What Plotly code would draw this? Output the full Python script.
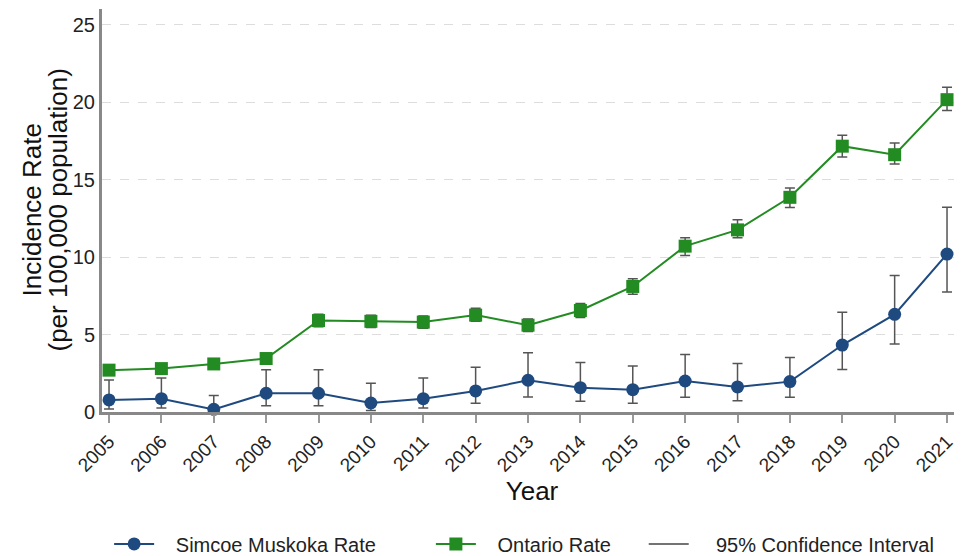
import plotly.graph_objects as go

years = list(range(2005, 2022))

# Simcoe Muskoka rate and 95% CI
sm_rate = [0.78, 0.86, 0.17, 1.21, 1.21, 0.58, 0.86, 1.36, 2.05, 1.57, 1.44, 2.00, 1.62, 1.96, 4.32, 6.30, 10.19]
sm_lo = [0.20, 0.26, 0.00, 0.41, 0.41, 0.10, 0.26, 0.56, 0.97, 0.69, 0.56, 0.95, 0.73, 0.95, 2.74, 4.38, 7.75]
sm_hi = [2.07, 2.20, 1.06, 2.72, 2.72, 1.86, 2.20, 2.89, 3.82, 3.19, 2.96, 3.71, 3.13, 3.52, 6.43, 8.81, 13.21]

# Ontario rate and 95% CI
on_rate = [2.70, 2.80, 3.10, 3.45, 5.90, 5.85, 5.80, 6.25, 5.60, 6.55, 8.10, 10.70, 11.75, 13.85, 17.15, 16.60, 20.15]
on_lo = [2.45, 2.55, 2.85, 3.20, 5.50, 5.45, 5.40, 5.85, 5.20, 6.10, 7.60, 10.10, 11.25, 13.20, 16.45, 16.00, 19.45]
on_hi = [2.95, 3.05, 3.35, 3.75, 6.30, 6.25, 6.20, 6.70, 6.00, 7.00, 8.60, 11.25, 12.40, 14.45, 17.85, 17.35, 20.95]

BLUE = "#1f4a80"
GREEN = "#228b22"
ERR = "#555555"
NB = "\u00a0"

fig = go.Figure()

fig.add_trace(go.Scatter(
    x=years, y=sm_rate, name=NB * 3 + "Simcoe Muskoka Rate" + NB * 9,
    mode="lines+markers",
    line=dict(color=BLUE, width=2),
    marker=dict(symbol="circle", size=13, color=BLUE),
    error_y=dict(type="data", symmetric=False,
                 array=[h - r for h, r in zip(sm_hi, sm_rate)],
                 arrayminus=[r - l for r, l in zip(sm_rate, sm_lo)],
                 color=ERR, thickness=1.5, width=5),
    cliponaxis=False,
))

fig.add_trace(go.Scatter(
    x=years, y=on_rate, name=NB * 3 + "Ontario Rate" + NB * 5,
    mode="lines+markers",
    line=dict(color=GREEN, width=2),
    marker=dict(symbol="square", size=13, color=GREEN),
    error_y=dict(type="data", symmetric=False,
                 array=[h - r for h, r in zip(on_hi, on_rate)],
                 arrayminus=[r - l for r, l in zip(on_rate, on_lo)],
                 color=ERR, thickness=1.5, width=5),
    cliponaxis=False,
))

# legend entry for the CI whiskers
fig.add_trace(go.Scatter(
    x=[None], y=[None], name=NB * 4 + "95% Confidence Interval",
    mode="lines", line=dict(color="#444444", width=1.5),
))

fig.update_layout(
    width=954, height=548,
    margin=dict(l=94, r=0, t=1, b=144),
    plot_bgcolor="white", paper_bgcolor="white",
    font=dict(family="Liberation Sans, Arial, sans-serif", color="#222222", size=18),
    legend=dict(
        orientation="h", xref="container", yref="container",
        x=0.106, y=0.022, xanchor="left", yanchor="middle",
        font=dict(size=20), itemwidth=40, traceorder="normal",
    ),
    annotations=[
        dict(text="Incidence Rate", xref="paper", yref="paper", x=0, y=0.5,
             xanchor="center", yanchor="middle", xshift=-71, textangle=-90,
             showarrow=False, font=dict(size=26, color="#111111")),
        dict(text="(per 100,000 population)", xref="paper", yref="paper", x=0, y=0.5,
             xanchor="center", yanchor="middle", xshift=-45, textangle=-90,
             showarrow=False, font=dict(size=26, color="#111111")),
    ],
)

fig.update_xaxes(
    range=[2004.866, 2021.286],
    tickmode="array", tickvals=years, ticktext=[str(y) for y in years],
    tickangle=-45, tickfont=dict(size=19),
    ticks="outside", ticklen=8, tickcolor="#999999", tickwidth=2,
    showline=True, linecolor="#888888", linewidth=3,
    showgrid=False, zeroline=False,
    title=dict(text="Year", font=dict(size=26, color="#111111"), standoff=8),
)

fig.update_yaxes(
    range=[0, 26],
    tickvals=[0, 5, 10, 15, 20, 25],
    tickfont=dict(size=20),
    showline=True, linecolor="#888888", linewidth=3,
    showgrid=True, gridcolor="#dddddd", griddash="dash", gridwidth=1,
    zeroline=False,
)

fig.write_html("out.html")
